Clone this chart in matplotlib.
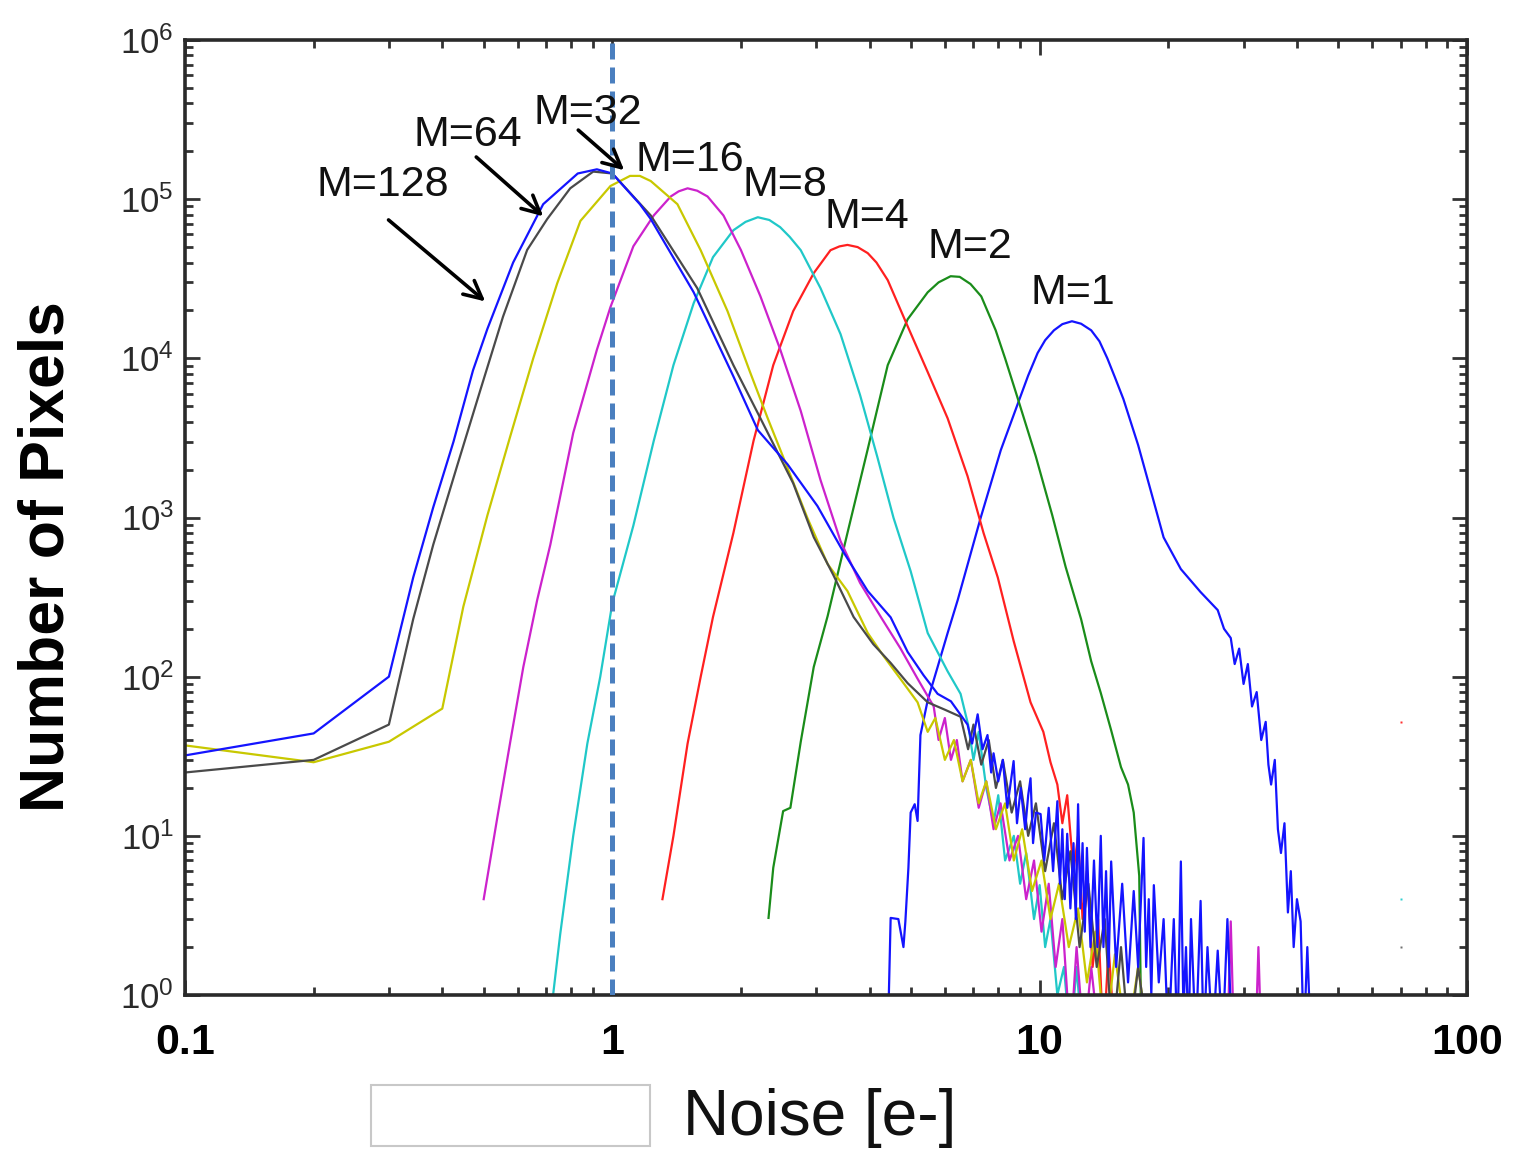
import numpy as np
import matplotlib
matplotlib.use('Agg')
import matplotlib.pyplot as plt
from matplotlib.ticker import FuncFormatter, FixedLocator, NullFormatter
from matplotlib.patches import Rectangle

plt.rcParams['font.family'] = ['Liberation Sans', 'DejaVu Sans']

# noise histograms (x = noise in e-, y = number of pixels)
noise_m128 = [0.1, 0.2, 0.3, 0.342, 0.381, 0.425, 0.472, 0.51, 0.586, 0.689, 0.83, 0.92, 1.0, 1.16, 1.23,
              1.55, 1.92, 2.19, 2.57, 3.02, 3.47, 3.96, 4.48, 4.91, 5.35, 5.77, 6.2,
              6.78, 6.95, 7.16, 7.35, 7.55, 7.7, 7.8, 8.0, 8.2, 8.4,
              8.69, 8.85, 9.03, 9.25, 9.4, 9.52, 9.65, 9.8, 10.05, 10.25,
              10.5, 10.75, 11.0, 11.15, 11.3, 11.45, 11.6, 11.8, 12.0, 12.15,
              12.3, 12.45, 12.6, 12.75, 12.9, 13.15, 13.4, 13.65, 13.9, 14.1,
              14.3, 14.5, 14.7, 15.1, 15.6, 16.1, 16.6, 17.0, 17.5, 17.75,
              18.0, 18.25, 18.5, 19.0, 19.5, 20.0, 20.6, 21.0, 21.4, 21.7,
              22.0, 22.3, 22.6, 23.2, 23.8, 24.2, 24.7, 25.4, 26.1, 26.8,
              27.5, 28.2, 30.0, 31.0, 33.0, 34.0]
count_m128 = [32, 44, 100, 420, 1160, 3000, 8400, 15300, 40000, 93000, 145000, 154000, 145000, 93000, 75000,
              26000, 7700, 3540, 2160, 1180, 610, 345, 236, 143, 102, 78, 70,
              50, 38, 58, 35, 43, 25, 33, 22, 30, 15,
              29.5, 12, 20, 11, 18, 23, 9, 14, 13.7, 7,
              15, 6, 16.5, 5, 11, 4, 10.3, 3.5, 9, 3,
              15.8, 3.5, 9, 2.5, 8.4, 2, 7, 2, 10, 2,
              6, 1.5, 6.9, 1.5, 5, 1.2, 4.5, 1.5, 9.7, 1.5,
              4, 1, 4.9, 1.2, 3, 0.5, 3, 0.5, 6.9, 0.8,
              2, 0.5, 3, 0.5, 3.9, 0.5, 2, 0.5, 1.9, 0.5,
              3, 0.5, 1, 0.5, 1, 0.5]

noise_m64 = [0.1, 0.2, 0.3, 0.342, 0.381, 0.434, 0.49, 0.555, 0.632, 0.704, 0.797, 0.902, 1.0, 1.23, 1.58,
             1.92, 2.22, 2.65, 2.96, 3.29, 3.67, 4.08, 4.48, 4.91, 5.47, 6.0, 6.53, 6.8, 7.0, 7.3,
             7.6, 7.9, 8.2, 8.6, 9.0, 9.4, 9.8, 10.3, 10.8, 11.3, 11.8, 12.4, 13.0, 13.6, 14.2,
             14.8, 15.5, 16.2, 17.0, 18.0, 19.0, 20.0]
count_m64 = [25, 30, 50, 230, 675, 2140, 6200, 18300, 48000, 75000, 117000, 149000, 145000, 79000, 27600,
             9060, 4210, 1640, 753, 435, 237, 160, 122, 91, 69, 62, 56, 35, 50, 28,
             40, 20, 30, 14, 22, 10, 16, 6, 12, 4, 8, 2, 5, 1.5, 3,
             0.5, 2, 0.5, 1.5, 0.5, 1, 0.5]

noise_m32 = [0.1, 0.2, 0.3, 0.4, 0.448, 0.51, 0.577, 0.653, 0.743, 0.842, 0.99, 1.1, 1.16, 1.23, 1.42,
             1.61, 1.86, 2.10, 2.31, 2.57, 2.86, 3.19, 3.55, 3.96, 4.31, 4.72, 5.18, 5.47, 5.7, 6.0,
             6.3, 6.6, 6.9, 7.2, 7.5, 7.9, 8.3, 8.7, 9.1, 9.6, 10.1, 10.6, 11.1, 11.7, 12.3,
             12.9, 13.5, 14.2, 15.0, 16.0, 17.0, 18.0]
count_m32 = [37, 29, 39, 63, 275, 1030, 3240, 10000, 29600, 73000, 121000, 140000, 140000, 130000, 93000,
             47700, 19800, 8200, 4200, 2050, 995, 510, 345, 188, 135, 97, 69, 45, 55, 30,
             40, 22, 30, 16, 22, 11, 16, 7, 11, 4.5, 7, 3, 5, 2, 3.5,
             1.2, 2.5, 0.5, 1.8, 0.5, 1.5, 0.5]

noise_m16 = [0.5, 0.538, 0.577, 0.619, 0.667, 0.716, 0.81, 0.92, 0.99, 1.12, 1.25, 1.37, 1.43, 1.50, 1.58,
             1.67, 1.82, 2.0, 2.22, 2.47, 2.76, 3.07, 3.42, 3.80, 4.25, 4.72, 5.18, 5.65, 5.8, 6.0,
             6.2, 6.4, 6.6, 6.9, 7.2, 7.5, 7.8, 8.1, 8.5, 8.9, 9.3, 9.7, 10.1, 10.5, 10.9,
             11.3, 11.8, 12.2, 12.7, 13.2, 13.8, 14.5, 15.0, 27.5, 28.0, 28.5, 32.0, 32.5, 33.0]
count_m16 = [4.0, 13, 39, 115, 303, 675, 3400, 11300, 21000, 50600, 79000, 104000, 112000, 117000, 113000,
             104000, 79000, 47800, 24600, 11400, 4670, 1720, 710, 388, 237, 151, 97, 65, 40, 55,
             30, 40, 22, 30, 15, 22, 11, 16, 7, 10, 4, 7, 2.5, 5, 1.5,
             3, 0.5, 2, 0.5, 1.5, 0.5, 1, 0.5, 0.5, 2.9, 0.5, 0.5, 2, 0.5]

noise_m8 = [0.705, 0.755, 0.81, 0.874, 0.937, 1.0, 1.12, 1.25, 1.39, 1.55, 1.72, 1.92, 2.05, 2.19, 2.33,
            2.47, 2.6, 2.76, 3.07, 3.42, 3.80, 4.17, 4.55, 4.99, 5.47, 6.09, 6.53, 6.8, 7.0, 7.2,
            7.5, 7.8, 8.0, 8.3, 8.7, 9.0, 9.3, 9.7, 10.0, 10.3, 10.6, 11.0, 11.4, 11.8, 12.2,
            12.6, 13.0, 13.5]
count_m8 = [0.5, 2.4, 10, 38, 100, 290, 890, 3030, 9060, 22200, 43200, 63800, 72000, 77000, 74000,
            66700, 58000, 47800, 27600, 14200, 5870, 2400, 995, 460, 188, 108, 78, 50, 30, 45,
            20, 12, 18, 7, 10, 5, 7.8, 3, 4.9, 2, 3, 1, 1.5, 0.5, 1.5,
            0.5, 1, 0.5]

noise_m4 = [1.31, 1.39, 1.50, 1.61, 1.72, 1.92, 2.14, 2.38, 2.65, 2.96, 3.24, 3.4, 3.55, 3.75, 3.96,
            4.15, 4.41, 4.91, 5.47, 6.09, 6.78, 7.39, 7.98, 8.69, 9.52, 10.2, 10.6, 11.0, 11.3, 11.6,
            12.0, 12.3, 12.6, 12.9, 13.3, 13.7, 14.1, 14.5, 15.0]
count_m4 = [4.0, 10, 38, 100, 237, 800, 3030, 9060, 19800, 34300, 47800, 50500, 51600, 50000, 45800,
            40000, 31000, 15900, 8200, 4200, 1820, 800, 420, 168, 69, 45, 29, 21, 12, 18,
            6, 10, 3, 6, 1.5, 3, 0.5, 2, 0.5]

noise_m2 = [2.32, 2.38, 2.51, 2.61, 2.76, 2.96, 3.19, 3.55, 3.96, 4.41, 4.91, 5.47, 5.8, 6.19, 6.5,
            6.89, 7.3, 7.89, 8.3, 8.79, 9.79, 10.7, 11.5, 12.5, 13.2, 13.9, 14.7, 15.5, 16.1, 16.6,
            17.1, 17.3]
count_m2 = [3.05, 6.3, 14.3, 15, 39, 115, 240, 800, 2690, 9060, 17600, 26000, 30000, 32800, 32500,
            29300, 24500, 15000, 10000, 6150, 2430, 1035, 490, 230, 125, 79, 46, 27, 21, 14,
            5.6, 0.5]

noise_m1 = [4.41, 4.48, 4.67, 4.8, 4.85, 4.93, 4.99, 5.1, 5.18, 5.26, 5.47, 5.77, 6.09, 6.43, 7.28,
            8.11, 8.88, 9.4, 9.89, 10.3, 10.8, 11.3, 11.9, 12.5, 13.2, 13.8, 14.4, 15.0, 15.7, 17.0,
            18.2, 19.5, 21.4, 23.8, 26.1, 27.0, 28.0, 28.6, 29.3, 30.0, 30.7, 31.4, 32.2, 33.0, 33.8,
            34.3, 34.8, 35.5, 36.1, 36.7, 37.4, 38.1, 38.7, 39.3, 40.0, 40.8, 41.5, 42.3, 43.1, 44.0,
            45.0]
count_m1 = [0.5, 3.05, 3.0, 2.0, 2.9, 6.3, 14, 15.8, 12.4, 43, 71, 115, 188, 303, 1000,
            2650, 5150, 7800, 10800, 13000, 15000, 16400, 17100, 16500, 15000, 12800, 10000, 7600, 5550, 2850,
            1470, 750, 474, 340, 262, 200, 175, 120, 150, 90, 120, 65, 80, 40, 52,
            28, 21, 30, 11, 7.8, 12, 3.3, 6, 2, 4, 2.9, 0.5, 2, 0.5, 1,
            0.5]

# single far-out bins near 70 e-
stray_noise = [70, 70, 70]
stray_count = [52, 4, 2]
stray_colors = ['#ff3030', '#30d0d0', '#707070']

curves = [
    ('M=1', noise_m1, count_m1, '#1414ff'),
    ('M=2', noise_m2, count_m2, '#1a8c1a'),
    ('M=4', noise_m4, count_m4, '#ff2020'),
    ('M=8', noise_m8, count_m8, '#20c8c8'),
    ('M=16', noise_m16, count_m16, '#cc22cc'),
    ('M=32', noise_m32, count_m32, '#c8c800'),
    ('M=64', noise_m64, count_m64, '#4a4a4a'),
    ('M=128', noise_m128, count_m128, '#1414ff'),
]

# label positions (data coords)
label_text = ['M=128', 'M=64', 'M=32', 'M=16', 'M=8', 'M=4', 'M=2', 'M=1']
label_x = [0.291, 0.46, 0.874, 1.52, 2.53, 3.94, 6.86, 11.95]
label_y = [122000, 252000, 347000, 176000, 122000, 77000, 50000, 25700]

# arrows (tail -> head)
arrow_tail = [(0.296, 76000), (0.475, 189000), (0.823, 279000)]
arrow_head = [(0.51, 22200), (0.697, 76000), (1.078, 148000)]

x_major = [0.1, 1, 10, 100]
y_major = [1, 10, 100, 1e3, 1e4, 1e5, 1e6]

W, H = 1518, 1152
fig = plt.figure(figsize=(W / 100, H / 100), dpi=100)
ax = fig.add_axes([185 / W, 1 - 995 / H, (1467 - 185) / W, (995 - 40) / H])

for name, xs, ys, col in curves:
    ax.plot(xs, ys, color=col, lw=1.6, zorder=2)

for xs, ys, col in zip(stray_noise, stray_count, stray_colors):
    ax.plot([xs], [ys], 's', ms=2, color=col, mec='none')

ax.axvline(1.0, color='#4a7fbf', lw=3.6, ls=(0, (3.2, 1.6)), zorder=4)

ax.set_xscale('log')
ax.set_yscale('log')
ax.set_xlim(0.1, 100)
ax.set_ylim(1, 1e6)

x_minor = [d * k for d in x_major[:-1] for k in range(2, 10)]
y_minor = [d * k for d in y_major[:-1] for k in range(2, 10)]
ax.xaxis.set_major_locator(FixedLocator(x_major))
ax.xaxis.set_minor_locator(FixedLocator(x_minor))
ax.yaxis.set_major_locator(FixedLocator(y_major))
ax.yaxis.set_minor_locator(FixedLocator(y_minor))

ax.xaxis.set_major_formatter(FuncFormatter(lambda v, p: '%g' % v))
ax.yaxis.set_major_formatter(FuncFormatter(lambda v, p: r'$\mathregular{10^{%d}}$' % round(np.log10(v))))
ax.xaxis.set_minor_formatter(NullFormatter())
ax.yaxis.set_minor_formatter(NullFormatter())

ax.tick_params(which='both', direction='in', top=True, right=True, color='#333333')
ax.tick_params(which='major', length=11, width=2)
ax.tick_params(which='minor', length=6, width=2)
ax.tick_params(axis='x', which='major', labelsize=31, pad=20)
ax.tick_params(axis='y', which='major', labelsize=25, pad=8, labelcolor='#2a2a2a')
for lab in ax.get_xticklabels():
    lab.set_fontweight('bold')

for s in ax.spines.values():
    s.set_linewidth(2.6)
    s.set_color('#2a2a2a')

for t, x, y in zip(label_text, label_x, label_y):
    ax.text(x, y, t, fontsize=31, ha='center', va='center', color='#111111', zorder=5)

for tail, head in zip(arrow_tail, arrow_head):
    ax.annotate('', xy=head, xytext=tail,
                arrowprops=dict(arrowstyle='->', lw=2.6, color='black', mutation_scale=32), zorder=5)

fig.text(47 / W, 1 - 557 / H, 'Number of Pixels', rotation=90, fontsize=45, fontweight='bold',
         ha='center', va='center')
fig.text(820 / W, 1 - 1118 / H, 'Noise [e-]', fontsize=46, ha='center', va='center', color='#111111')

fig.add_artist(Rectangle((371 / W, 1 - 1146 / H), (650 - 371) / W, (1146 - 1085) / H,
                         transform=fig.transFigure, fill=False, ec='#c8c8c8', lw=1.5))

fig.savefig('out.png', dpi=100)
